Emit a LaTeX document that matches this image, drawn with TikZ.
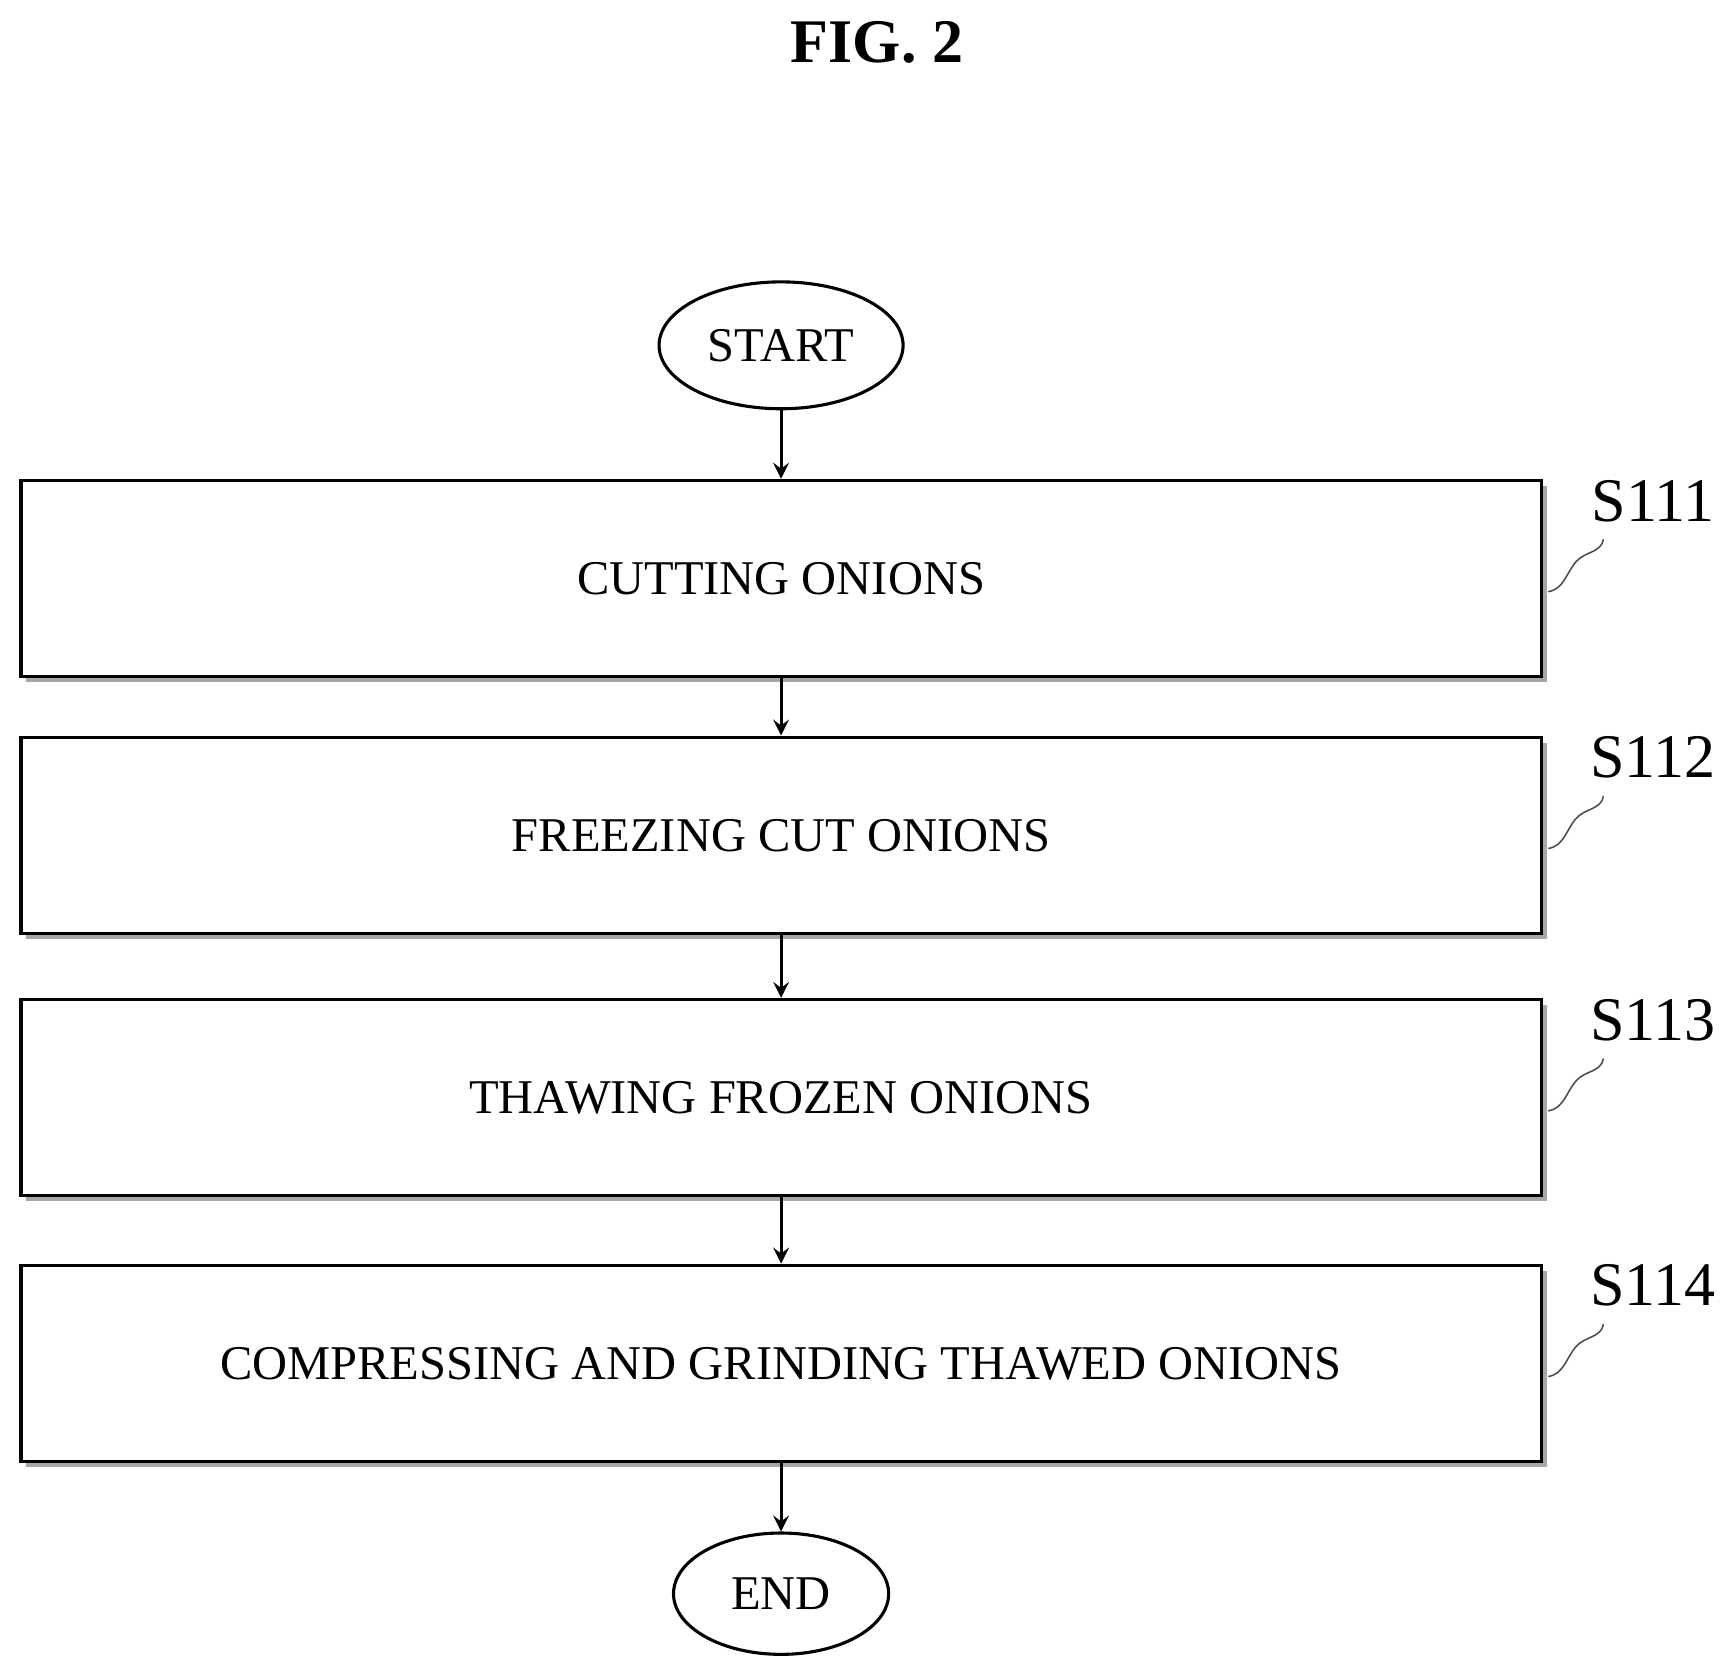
\documentclass[tikz,border=0pt]{standalone}
\usepackage{fontspec}
\setmainfont{Liberation Serif}
\usetikzlibrary{positioning,shadows,shapes.geometric}
\tikzset{
  stepbox/.style={draw, thick, fill=white, minimum width=13.78cm, minimum height=1.78cm,
    font=\fontsize{12.5}{15}\selectfont,
    drop shadow={shadow xshift=0.05cm, shadow yshift=-0.05cm, fill=gray!70, opacity=1}},
  term/.style={ellipse, draw, thick, minimum width=2.1cm, minimum height=1.12cm,
    font=\fontsize{12.5}{15}\selectfont},
  flow/.style={-stealth, thick},
  tag/.style={font=\fontsize{16}{18}\selectfont},
  leader/.style={gray!60!black, thin}
}
\begin{document}
\begin{tikzpicture}
  \useasboundingbox (0,0) rectangle (15.6,-15.12);
  \node[font=\bfseries\fontsize{16}{18}\selectfont] (title) at (7.95,-0.38) {FIG. 2};

  \node[term, minimum width=2.18cm, minimum height=1.15cm] (start) at (7.08,-3.13) {START};
  \node[stepbox, below=0.62cm of start] (s1) {CUTTING ONIONS};
  \node[stepbox, below=0.52cm of s1] (s2) {FREEZING CUT ONIONS};
  \node[stepbox, below=0.57cm of s2] (s3) {THAWING FROZEN ONIONS};
  \node[stepbox, below=0.6cm of s3] (s4) {COMPRESSING AND GRINDING THAWED ONIONS};
  \node[term, minimum width=1.95cm, minimum height=1.1cm, below=0.62cm of s4] (end) {END};

  \draw[flow] (start) -- (s1);
  \draw[flow] (s1) -- (s2);
  \draw[flow] (s2) -- (s3);
  \draw[flow] (s3) -- (s4);
  \draw[flow] (s4) -- (end);

  % step labels
  \foreach \s/\n in {s1/S111, s2/S112, s3/S113, s4/S114} {
    \node[tag] (\s tag) at ([xshift=1.0cm, yshift=-0.2cm]\s.north east) {\n};
    \coordinate (\s end) at ([xshift=0.55cm, yshift=-0.55cm]\s.north east);
    \draw[leader] ([xshift=0.05cm, yshift=-0.12cm]\s.east) to[out=10, in=230]
      ([xshift=0.3cm, yshift=0.15cm]\s.east) to[out=50, in=260] (\s end);
  }
\end{tikzpicture}
\end{document}
